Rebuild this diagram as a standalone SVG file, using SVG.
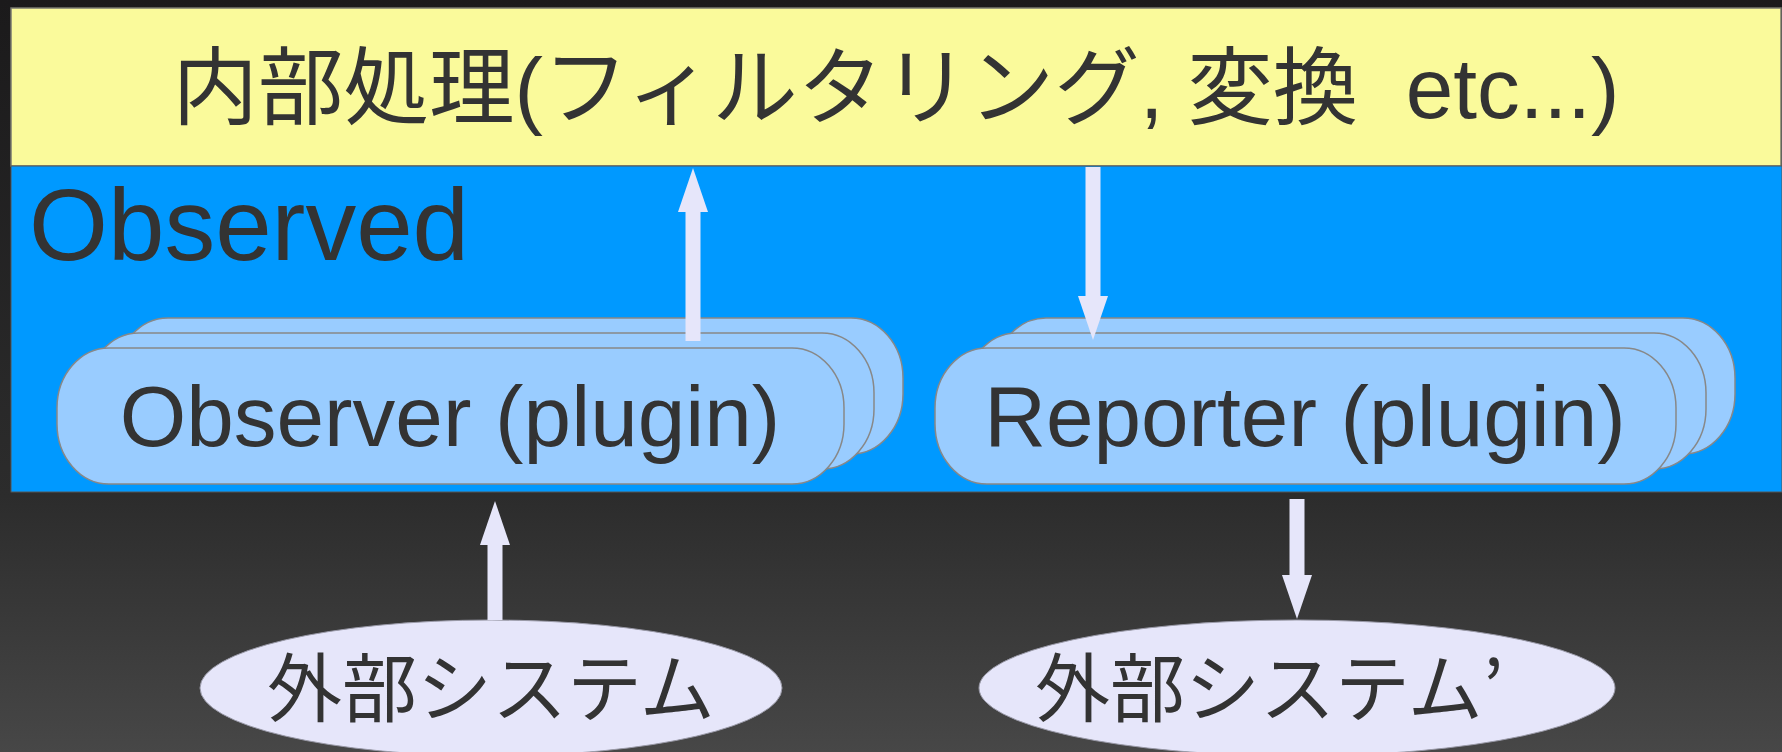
<svg xmlns="http://www.w3.org/2000/svg" width="1782" height="752" viewBox="0 0 1782 752">
<defs>
<linearGradient id="bg" x1="0" y1="0" x2="0" y2="1">
<stop offset="0" stop-color="#1b1a1b"/>
<stop offset="0.66" stop-color="#2c2c2c"/>
<stop offset="1" stop-color="#474747"/>
</linearGradient>
<marker id="head" markerUnits="userSpaceOnUse" viewBox="0 0 44 30" markerWidth="44" markerHeight="30" refX="0" refY="15" orient="auto">
<path d="M0,0 L44,15 L0,30 z" fill="#e6e6fa"/>
</marker>
<rect id="obsShape" width="787" height="136" rx="52" ry="60"/>
<rect id="repShape" width="741" height="136" rx="52" ry="60"/>
</defs>
<style>
text{fill:#333333;font-family:"Liberation Sans","Noto Sans CJK JP",sans-serif}
.cjk{font-family:"Noto Sans CJK JP","Liberation Sans",sans-serif}
.plug{fill:#99ccff;stroke:#888888;stroke-width:1.5}
.ell{fill:#e6e6fa;stroke:#9a9aa8;stroke-width:1}
.conn line{stroke:#e6e6fa;stroke-width:15;marker-end:url(#head)}
</style>
<rect x="0" y="0" width="1782" height="752" fill="url(#bg)"/>
<g id="internal">
<rect x="11" y="8" width="1770" height="158" fill="#fafa9b" stroke="#7a7a70" stroke-width="1.5"/>
<text x="896" y="118" font-size="85.5" text-anchor="middle" xml:space="preserve">内部処理(フィルタリング, 変換  etc...)</text>
</g>
<g id="observed">
<rect x="11" y="166" width="1771" height="326" fill="#0099ff" stroke="#555555" stroke-width="1"/>
<text x="29" y="260" font-size="101.5">Observed</text>
</g>
<g id="observer">
<use href="#obsShape" x="116" y="318" class="plug"/>
<use href="#obsShape" x="87" y="333" class="plug"/>
<use href="#obsShape" x="57" y="348" class="plug"/>
<text x="450" y="446" font-size="85.5" text-anchor="middle">Observer (plugin)</text>
</g>
<g id="reporter">
<use href="#repShape" x="994" y="318" class="plug"/>
<use href="#repShape" x="965" y="333" class="plug"/>
<use href="#repShape" x="935" y="348" class="plug"/>
<text x="1305" y="446" font-size="85.5" text-anchor="middle">Reporter (plugin)</text>
</g>
<g id="ext1">
<ellipse cx="491" cy="688" rx="291" ry="68" class="ell"/>
<text class="cjk" x="267" y="716" font-size="75">外部システム</text>
</g>
<g id="ext2">
<ellipse cx="1297" cy="688" rx="318" ry="68" class="ell"/>
<text class="cjk" x="1035" y="716" font-size="75">外部システム’</text>
</g>
<g id="connectors" class="conn">
<line x1="693" y1="341" x2="693" y2="212"/>
<line x1="1093" y1="167" x2="1093" y2="296"/>
<line x1="495" y1="620" x2="495" y2="545"/>
<line x1="1297" y1="499" x2="1297" y2="575"/>
</g>
</svg>
